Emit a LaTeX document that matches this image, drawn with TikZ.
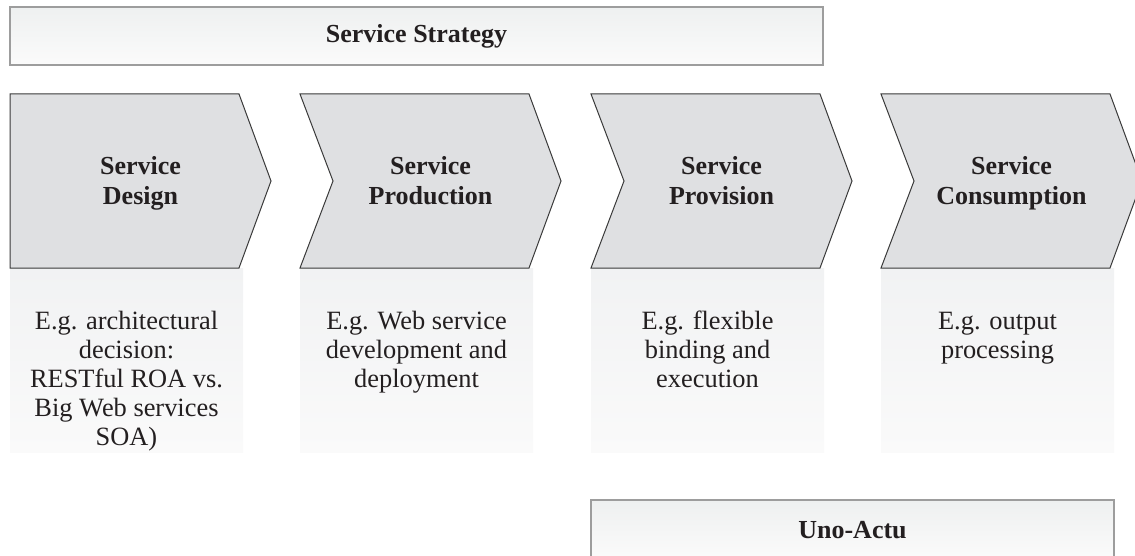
\documentclass[tikz,border=0pt]{standalone}
\usepackage{fontspec}
\setmainfont{Liberation Serif}
\usetikzlibrary{calc}

\definecolor{chevfill}{HTML}{DFE0E2}
\definecolor{chevline}{HTML}{3A3A3A}
\definecolor{inkgray}{HTML}{231F20}
\definecolor{descTop}{HTML}{F1F2F3}
\definecolor{descBot}{HTML}{FAFAFA}
\definecolor{bannerline}{HTML}{9D9D9D}
\definecolor{bannerTop}{HTML}{EEF0F0}
\definecolor{bannerBot}{HTML}{FBFBFB}

\begin{document}
\begin{tikzpicture}[x=0.5pt,y=-0.5pt,
    chevron/.style={draw=chevline,fill=chevfill,line width=0.5pt,line join=miter},
    headtext/.style={font=\fontsize{13}{14.5}\selectfont\bfseries,align=center,text=inkgray,anchor=base,inner sep=0pt},
    desctext/.style={font=\fontsize{13.2}{14.5}\selectfont,align=center,text=inkgray,anchor=base,inner sep=0pt},
    descbox/.style={top color=descTop,bottom color=descBot},
    banner/.style={draw=bannerline,line width=0.75pt,top color=bannerTop,bottom color=bannerBot,
      font=\fontsize{13}{14.5}\selectfont\bfseries,text=inkgray,inner sep=0pt}]

  \useasboundingbox (0,0) rectangle (1135,556);

  \node [banner,minimum width=406.5pt,minimum height=29pt] (strategy) at (416.5,36) {Service Strategy};

  % grey boxes under the chevrons
  \path [descbox] (10,268)  rectangle (243,452);
  \path [descbox] (300,268) rectangle (533,452);
  \path [descbox] (591,268) rectangle (824,452);
  \path [descbox] (881,268) rectangle (1114,452);

  % chevrons
  \path [chevron] (10,94) -- (239,94) -- (271,181) -- (239,268) -- (10,268) -- cycle;
  \path [chevron] (300,94) -- (529,94) -- (561,181) -- (529,268) -- (300,268) -- (333,181) -- cycle;
  \path [chevron] (591,94) -- (820,94) -- (852,181) -- (820,268) -- (591,268) -- (624,181) -- cycle;
  \path [chevron] (881,94) -- (1110,94) -- (1142,181) -- (1110,268) -- (881,268) -- (914,181) -- cycle;

  % base = baseline of the last line
  \node [headtext] (design)      at (140.5,204)  {Service\\Design};
  \node [headtext] (production)  at (430.5,204)  {Service\\Production};
  \node [headtext] (provision)   at (721.5,204)  {Service\\Provision};
  \node [headtext] (consumption) at (1011.5,204) {Service\\Consumption};

  \node [desctext] (design_eg)      at (126.5,445)  {E.g. architectural\\decision:\\RESTful ROA vs.\\Big Web services\\SOA)};
  \node [desctext] (production_eg)  at (416.5,387)  {E.g. Web service\\development and\\deployment};
  \node [desctext] (provision_eg)   at (707.5,387)  {E.g. flexible\\binding and\\execution};
  \node [desctext] (consumption_eg) at (997.5,358)  {E.g. output\\processing};

  \node [banner,minimum width=261.5pt,minimum height=30pt] (unoactu) at (852.5,530) {Uno-Actu};

\end{tikzpicture}
\end{document}
